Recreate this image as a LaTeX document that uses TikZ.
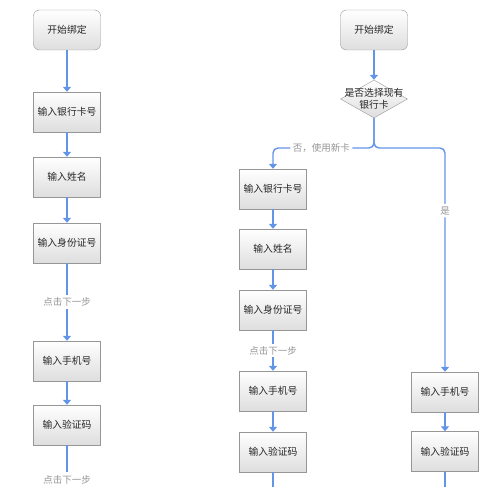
\documentclass[tikz,border=0pt]{standalone}
\usepackage{fontspec}
\newfontfamily\cjk{Noto Sans CJK SC}
\usepackage{tikz}
\usetikzlibrary{shapes.geometric,arrows.meta}

\definecolor{flowblue}{RGB}{98,148,232}
\definecolor{boxline}{RGB}{150,150,150}
\definecolor{labelgray}{RGB}{150,150,150}

\begin{document}
\begin{tikzpicture}[
    x=1pt, y=-1pt,
    box/.style={rectangle, draw=boxline, top color=white, bottom color=black!13, minimum width=67pt, minimum height=40pt, inner sep=0pt, font=\cjk\fontsize{9.8}{12}\selectfont, text=black!85},
    startbox/.style={box, rounded corners=6pt},
    decbox/.style={diamond, draw=boxline, top color=white, bottom color=black!13, minimum width=67pt, minimum height=38pt, inner sep=0pt},
    steplabel/.style={fill=white, inner sep=2.5pt, font=\cjk\fontsize{9.5}{11}\selectfont, text=labelgray},
    arrow/.style={-{Triangle[width=8pt,length=5pt]}, line width=1.4pt, color=flowblue},
    line/.style={line width=1.4pt, color=flowblue}
]
    \useasboundingbox (0,0) rectangle (500,487);

    % Nodes, left flow
    \node[startbox] (lstart) at (67,30) {开始绑定};
    \node[box] (lcard) at (67,112) {输入银行卡号};
    \node[box] (lname) at (67,177) {输入姓名};
    \node[box] (lid) at (67,243) {输入身份证号};
    \node[box] (lphone) at (67,361) {输入手机号};
    \node[box] (lcode) at (67,425) {输入验证码};
    \node[steplabel] (lnext) at (67,479.5) {点击下一步};

    % Nodes, right flow
    \node[startbox] (rstart) at (374,30) {开始绑定};
    \node[decbox] (choose) at (374,99) {};
    \node[font=\cjk\fontsize{9.8}{11.5}\selectfont, text=black!85, align=center, inner sep=0pt] (choosetext) at (choose.center) {是否选择现有\\银行卡};
    \coordinate (split) at (374,148);
    \node[box] (rcard) at (273,189) {输入银行卡号};
    \node[box] (rname) at (273,249) {输入姓名};
    \node[box] (rid) at (273,310) {输入身份证号};
    \node[box] (rphone) at (273,391) {输入手机号};
    \node[box] (rcode) at (273,452) {输入验证码};
    \node[box] (ophone) at (445,392) {输入手机号};
    \node[box] (ocode) at (445,451.5) {输入验证码};
    \coordinate (rend) at (273,487);
    \coordinate (oend) at (445,487);

    % Arrows, left flow
    \draw[arrow] (lstart) -- (lcard);
    \draw[arrow] (lcard) -- (lname);
    \draw[arrow] (lname) -- (lid);
    \draw[arrow] (lid) -- node[steplabel] {点击下一步} (lphone);
    \draw[arrow] (lphone) -- (lcode);
    \draw[line] (lcode) -- (lnext);

    % Arrows, right flow
    \draw[arrow] (rstart) -- (choose);
    \draw[arrow, rounded corners=5pt] (choose.south) -- (split) -| node[steplabel, pos=0.26] {否，使用新卡} (rcard.north);
    \draw[arrow, rounded corners=5pt] (choose.south) -- (split) -| node[steplabel, pos=0.64] {是} (ophone.north);
    \draw[arrow] (rcard) -- (rname);
    \draw[arrow] (rname) -- (rid);
    \draw[arrow] (rid) -- node[steplabel] {点击下一步} (rphone);
    \draw[arrow] (rphone) -- (rcode);
    \draw[line] (rcode) -- (rend);
    \draw[arrow] (ophone) -- (ocode);
    \draw[line] (ocode) -- (oend);

\end{tikzpicture}
\end{document}
